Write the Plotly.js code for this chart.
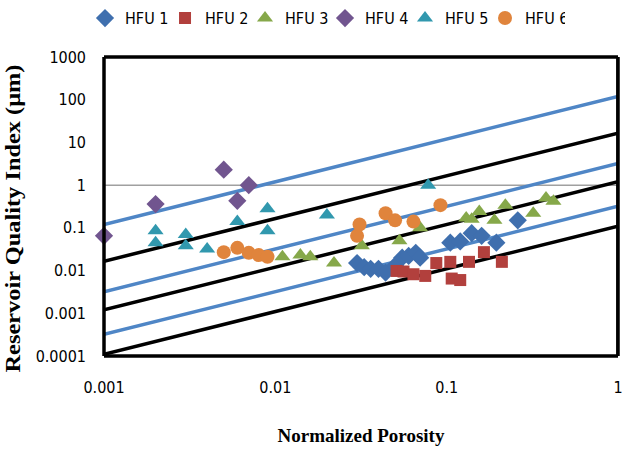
<!DOCTYPE html>
<html>
<head>
<meta charset="utf-8">
<script src="https://cdn.plot.ly/plotly-3.0.1.min.js"></script>
<style>
  html, body { margin: 0; padding: 0; background: #fff; overflow: hidden; }
  #chart { width: 623px; height: 450px; }
</style>
</head>
<body>
<div id="chart"></div>
<script>
// Hydraulic flow units: normalized porosity vs reservoir quality index
const hfu1X = [0.030, 0.033, 0.036, 0.040, 0.044, 0.050, 0.055, 0.060, 0.066, 0.070, 0.105, 0.120, 0.140, 0.160, 0.195, 0.260];
const hfu1Y = [0.015, 0.012, 0.011, 0.011, 0.009, 0.013, 0.020, 0.022, 0.026, 0.020, 0.045, 0.048, 0.075, 0.065, 0.045, 0.150];

const hfu2X = [0.051, 0.056, 0.064, 0.075, 0.087, 0.105, 0.107, 0.120, 0.135, 0.165, 0.210];
const hfu2Y = [0.0098, 0.0095, 0.0082, 0.0075, 0.015, 0.016, 0.0065, 0.006, 0.016, 0.027, 0.016];

const hfu3X = [0.011, 0.014, 0.016, 0.022, 0.032, 0.053, 0.070, 0.130, 0.140, 0.155, 0.190, 0.220, 0.320, 0.380, 0.420];
const hfu3Y = [0.021, 0.023, 0.021, 0.015, 0.038, 0.050, 0.100, 0.170, 0.160, 0.240, 0.150, 0.340, 0.220, 0.500, 0.420];

const hfu4X = [0.001, 0.002, 0.005, 0.006, 0.007];
const hfu4Y = [0.065, 0.36, 2.3, 0.43, 1.0];

const hfu5X = [0.002, 0.002, 0.003, 0.003, 0.004, 0.006, 0.009, 0.009, 0.020, 0.078];
const hfu5Y = [0.085, 0.045, 0.070, 0.038, 0.032, 0.140, 0.280, 0.085, 0.200, 1.000];

const hfu6X = [0.005, 0.006, 0.007, 0.008, 0.009, 0.030, 0.031, 0.044, 0.050, 0.064, 0.092];
const hfu6Y = [0.027, 0.034, 0.026, 0.023, 0.021, 0.065, 0.120, 0.220, 0.150, 0.140, 0.340];

// Flow-zone lines: RQI at the two ends of the porosity range
const lineX = [0.001, 1];
const blueLines = [[0.12, 120], [0.0032, 3.2], [0.00032, 0.32]];
const blackLines = [[0.0165, 16.5], [0.0012, 1.2], [0.00011, 0.11]];

const refLevel = 1;   // horizontal reference at RQI = 1

const xTicks = [0.001, 0.01, 0.1, 1];
const xTickText = ['0.001', '0.01', '0.1', '1'];
const yTicks = [0.0001, 0.001, 0.01, 0.1, 1, 10, 100, 1000];
const yTickText = ['0.0001', '0.001', '0.01', '0.1', '1', '10', '100', '1000'];

const xMax = xTicks[xTicks.length - 1];
const yMin = yTicks[0], yMax = yTicks[yTicks.length - 1];

const traces = [];

blueLines.forEach(v => traces.push({
  x: lineX, y: v, mode: 'lines', showlegend: false, hoverinfo: 'skip',
  line: { color: '#4F86C6', width: 3.5 }
}));
blackLines.forEach(v => traces.push({
  x: lineX, y: v, mode: 'lines', showlegend: false, hoverinfo: 'skip',
  line: { color: '#000000', width: 3.5 }
}));

// right edge of the plot frame
traces.push({
  x: [xMax, xMax], y: [yMin, yMax], mode: 'lines', showlegend: false, hoverinfo: 'skip',
  cliponaxis: false, line: { color: '#000000', width: 3.5 }
});

const series = [
  { name: 'HFU 1', x: hfu1X, y: hfu1Y, symbol: 'diamond', color: '#3F6FAE', size: 14 },
  { name: 'HFU 2', x: hfu2X, y: hfu2Y, symbol: 'square', color: '#B2403D', size: 12 },
  { name: 'HFU 3', x: hfu3X, y: hfu3Y, symbol: 'triangle-up', color: '#86A84A', size: 14 },
  { name: 'HFU 4', x: hfu4X, y: hfu4Y, symbol: 'diamond', color: '#71558F', size: 14 },
  { name: 'HFU 5', x: hfu5X, y: hfu5Y, symbol: 'triangle-up', color: '#3198AE', size: 14 },
  { name: 'HFU 6', x: hfu6X, y: hfu6Y, symbol: 'circle', color: '#E0843C', size: 14 }
];

series.forEach(s => traces.push({
  x: s.x, y: s.y, name: s.name, mode: 'markers', type: 'scatter', cliponaxis: false,
  marker: { symbol: s.symbol, color: s.color, size: s.size, line: { width: 0 } }
}));

const tickFont = { family: 'DejaVu Sans Condensed, DejaVu Sans, sans-serif', size: 16, color: '#000' };
const titleFontFamily = 'Liberation Serif, Times New Roman, serif';

// plot frame: heavy edges
const frame = { color: '#000', width: 3.5 };
const edge = (x0, y0, x1, y1) => ({ type: 'line', xref: 'paper', yref: 'paper',
  x0, y0, x1, y1, line: frame, layer: 'above' });

const layout = {
  width: 623, height: 450,
  margin: { l: 104, r: 5, t: 57, b: 94, autoexpand: false },
  paper_bgcolor: '#ffffff', plot_bgcolor: 'rgba(0,0,0,0)',
  font: tickFont,
  showlegend: true,
  legend: {
    orientation: 'h', x: 0.43, xanchor: 'center', y: 1.13, yanchor: 'middle',
    font: tickFont, itemwidth: 30, entrywidth: 35, entrywidthmode: 'pixels',
    bgcolor: 'rgba(0,0,0,0)'
  },
  xaxis: {
    type: 'log', range: [-3, 0],
    tickmode: 'array', tickvals: xTicks, ticktext: xTickText, tickfont: tickFont,
    ticklabeloverflow: 'allow',
    showgrid: false, zeroline: false, ticks: '', showline: false,
    ticklabelstandoff: 20,
    title: { text: 'Normalized Porosity', standoff: 32,
      font: { family: titleFontFamily, size: 19, weight: 'bold', color: '#000' } }
  },
  yaxis: {
    type: 'log', range: [-4, 3],
    tickmode: 'array', tickvals: yTicks, ticktext: yTickText, tickfont: tickFont,
    showgrid: false, zeroline: false, ticks: '', showline: false,
    ticklabelstandoff: 17,
    title: { text: 'Reservoir Quality Index (μm)', standoff: 9,
      font: { family: titleFontFamily, size: 21, weight: 'bold', color: '#000' } }
  },
  shapes: [
    { type: 'line', xref: 'paper', yref: 'y', x0: 0, x1: 1, y0: refLevel, y1: refLevel,
      line: { color: '#A0A0A0', width: 1.5 }, layer: 'below' },
    edge(0, 0, 1, 0),
    edge(0, 1, 1, 1),
    edge(0, 0, 0, 1),
    edge(1, 0, 1, 1)
  ]
};

Plotly.newPlot('chart', traces, layout, { staticPlot: true, displayModeBar: false }).then(gd => {
  // the axis title is set in a tall, stretched face: widen it along its baseline
  const yt = gd.querySelector('.ytitle');
  if (yt) {
    yt.setAttribute('textLength', '308');
    yt.setAttribute('lengthAdjust', 'spacingAndGlyphs');
    const tr = yt.getAttribute('transform') || '';
    yt.setAttribute('transform', 'translate(0,12) ' + tr);
  }
});
</script>
</body>
</html>
